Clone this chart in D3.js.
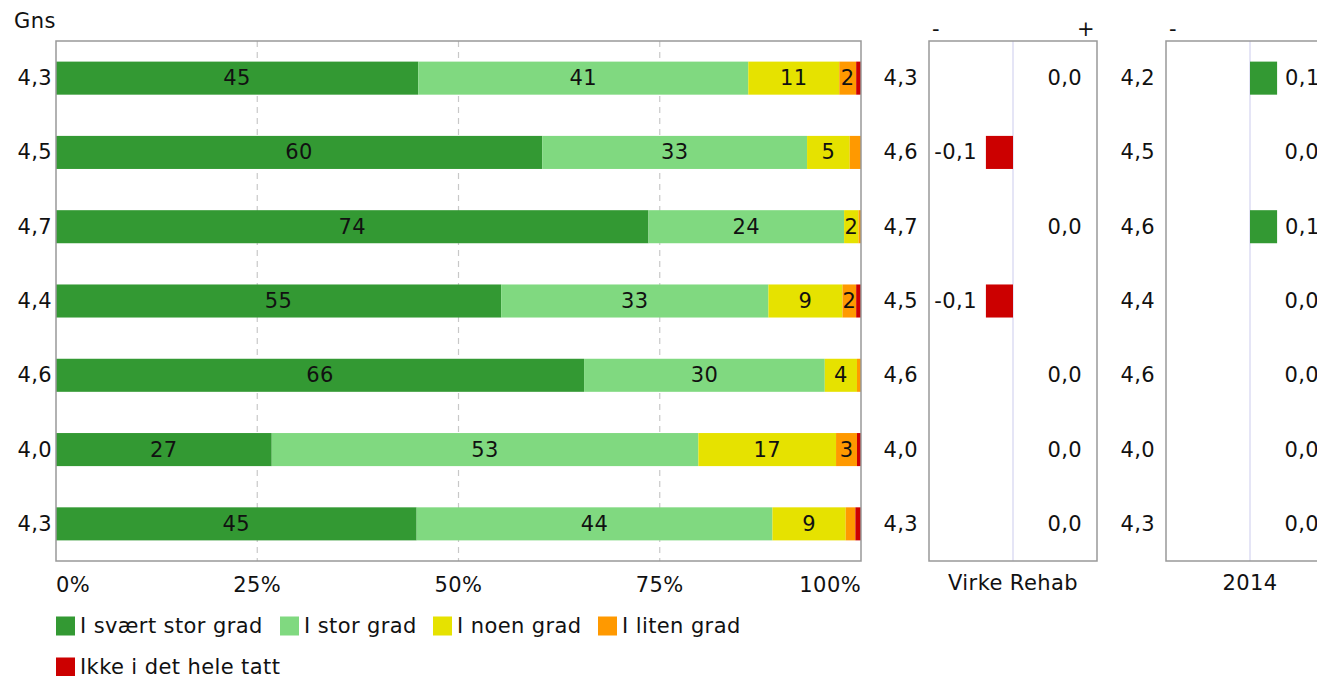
<!DOCTYPE html>
<html><head><meta charset="utf-8">
<script src="https://cdn.jsdelivr.net/npm/d3@7"></script>
<style>
body{margin:0;background:#fff;}
svg text{font-family:"DejaVu Sans",Verdana,sans-serif;fill:#111;letter-spacing:0.4px;}
</style></head>
<body><svg id="c" width="1317" height="676"></svg>
<script>
const seriesNames = ["I svært stor grad","I stor grad","I noen grad","I liten grad","Ikke i det hele tatt"];
const seriesColors = ["#339933","#80d980","#e6e200","#ff9900","#cc0000"];
const rows = [0,1,2,3,4,5,6];
const sSvaertStor = [45.0,60.4,73.6,55.3,65.6,26.8,44.8];
const sStor       = [41.0,32.9,24.3,33.2,29.9,53.0,44.2];
const sNoen       = [11.3,5.3,1.8,9.2,4.0,17.1,9.1];
const sLiten      = [2.1,1.4,0.3,1.7,0.5,2.6,1.2];
const sIkke       = [0.6,0.0,0.0,0.6,0.0,0.5,0.7];
const meanMain    = ["4,3","4,5","4,7","4,4","4,6","4,0","4,3"];
const xTicks      = [0,25,50,75,100];

const panel2Title = "Virke Rehab";
const panel2Mean  = ["4,3","4,6","4,7","4,5","4,6","4,0","4,3"];
const panel2Diff  = [0.0,-0.1,0.0,-0.1,0.0,0.0,0.0];
const panel3Title = "2014";
const panel3Mean  = ["4,2","4,5","4,6","4,4","4,6","4,0","4,3"];
const panel3Diff  = [0.1,0.0,0.1,0.0,0.0,0.0,0.0];

const svg = d3.select("#c");
const FS = 21;
const yTop = 41, yBottom = 561;
const y = d3.scaleBand().domain(rows).range([yTop,yBottom]).paddingInner(0.555).paddingOuter(0.2775);

// ---- main panel
const x = d3.scaleLinear().domain([0,100]).range([56,861]);
const g = svg.append("g");
g.selectAll("line.grid").data([25,50,75]).join("line")
  .attr("x1",d=>x(d)).attr("x2",d=>x(d)).attr("y1",yTop).attr("y2",yBottom)
  .attr("stroke","#c8c8c8").attr("stroke-width",1.2).attr("stroke-dasharray","6,5");

const seriesData = [sSvaertStor,sStor,sNoen,sLiten,sIkke];
const stackRows = rows.map(i=>{const o={i}; seriesNames.forEach((n,k)=>o[n]=seriesData[k][i]); return o;});
const stacked = d3.stack().keys(seriesNames)(stackRows);
stacked.forEach((layer,k)=>{
  const lg = g.append("g");
  lg.selectAll("rect").data(layer).join("rect")
    .attr("x",d=>x(d[0])).attr("width",d=>x(d[1])-x(d[0]))
    .attr("y",(d,i)=>y(i)).attr("height",y.bandwidth())
    .attr("fill",seriesColors[k]);
  lg.selectAll("text").data(layer.filter(d=>Math.round(d[1]-d[0])>=2)).join("text")
    .attr("x",d=>(x(d[0])+x(d[1]))/2).attr("y",d=>y(d.data.i)+y.bandwidth()/2)
    .attr("text-anchor","middle").attr("dominant-baseline","central")
    .attr("font-size",FS).text(d=>Math.round(d[1]-d[0]));
});
g.append("rect").attr("x",56).attr("y",yTop).attr("width",805).attr("height",yBottom-yTop)
  .attr("fill","none").attr("stroke","#999").attr("stroke-width",1.5);
// x axis labels
g.selectAll("text.xt").data(xTicks).join("text")
  .attr("x",d=>x(d)).attr("y",585)
  .attr("text-anchor",(d,i)=>i===0?"start":(i===xTicks.length-1?"end":"middle"))
  .attr("dominant-baseline","central").attr("font-size",FS).text(d=>d+"%");
svg.append("text").attr("x",14).attr("y",21).attr("dominant-baseline","central").attr("font-size",FS).text("Gns");
g.selectAll("text.mean").data(meanMain).join("text")
  .attr("x",52).attr("y",(d,i)=>y(i)+y.bandwidth()/2).attr("text-anchor","end")
  .attr("dominant-baseline","central").attr("font-size",FS).text(d=>d);

// ---- diff panels
function panel(x0, meanArr, diffArr, title, showPlus){
  const w = 168, cx = x0+84;
  const xs = d3.scaleLinear().domain([-0.31,0.31]).range([x0,x0+w]);
  const p = svg.append("g");
  p.append("line").attr("x1",xs(0)).attr("x2",xs(0)).attr("y1",yTop).attr("y2",yBottom)
    .attr("stroke","#d4d4f0").attr("stroke-width",1.2);
  p.append("rect").attr("x",x0).attr("y",yTop).attr("width",w).attr("height",yBottom-yTop)
    .attr("fill","none").attr("stroke","#999").attr("stroke-width",1.5);
  p.append("text").attr("x",x0+3).attr("y",29).attr("dominant-baseline","central").attr("font-size",FS).text("-");
  if(showPlus) p.append("text").attr("x",x0+w-2).attr("y",29).attr("text-anchor","end").attr("dominant-baseline","central").attr("font-size",FS).text("+");
  p.selectAll("text.m").data(meanArr).join("text")
    .attr("x",x0-11).attr("y",(d,i)=>y(i)+y.bandwidth()/2).attr("text-anchor","end")
    .attr("dominant-baseline","central").attr("font-size",FS).text(d=>d);
  p.selectAll("rect.b").data(diffArr).join("rect")
    .attr("x",d=>xs(Math.min(0,d))).attr("width",d=>Math.abs(xs(d)-xs(0)))
    .attr("y",(d,i)=>y(i)).attr("height",y.bandwidth())
    .attr("fill",d=>d<0?"#cc0000":"#339933");
  const fmt = d=>d3.format(".1f")(d).replace(".",",").replace("−","-");
  p.selectAll("text.v").data(diffArr).join("text")
    .attr("x",d=>d<0?xs(d)-9:(d>0?xs(d)+8:x0+w-15))
    .attr("text-anchor",d=>d>0?"start":"end")
    .attr("y",(d,i)=>y(i)+y.bandwidth()/2)
    .attr("dominant-baseline","central").attr("font-size",FS).text(fmt);
  p.append("text").attr("x",cx).attr("y",583).attr("text-anchor","middle")
    .attr("dominant-baseline","central").attr("font-size",FS).text(title);
}
panel(929, panel2Mean, panel2Diff, panel2Title, true);
panel(1166, panel3Mean, panel3Diff, panel3Title, false);

// ---- legend
const legendPos = [[56,626],[280,626],[433,626],[598,626],[56,667]];
const lgd = svg.append("g");
seriesNames.forEach((n,k)=>{
  const [lx,ly] = legendPos[k];
  lgd.append("rect").attr("x",lx).attr("y",ly-9.5).attr("width",19).attr("height",19).attr("fill",seriesColors[k]);
  lgd.append("text").attr("x",lx+24).attr("y",ly).attr("dominant-baseline","central").attr("font-size",FS).text(n);
});
</script></body></html>
